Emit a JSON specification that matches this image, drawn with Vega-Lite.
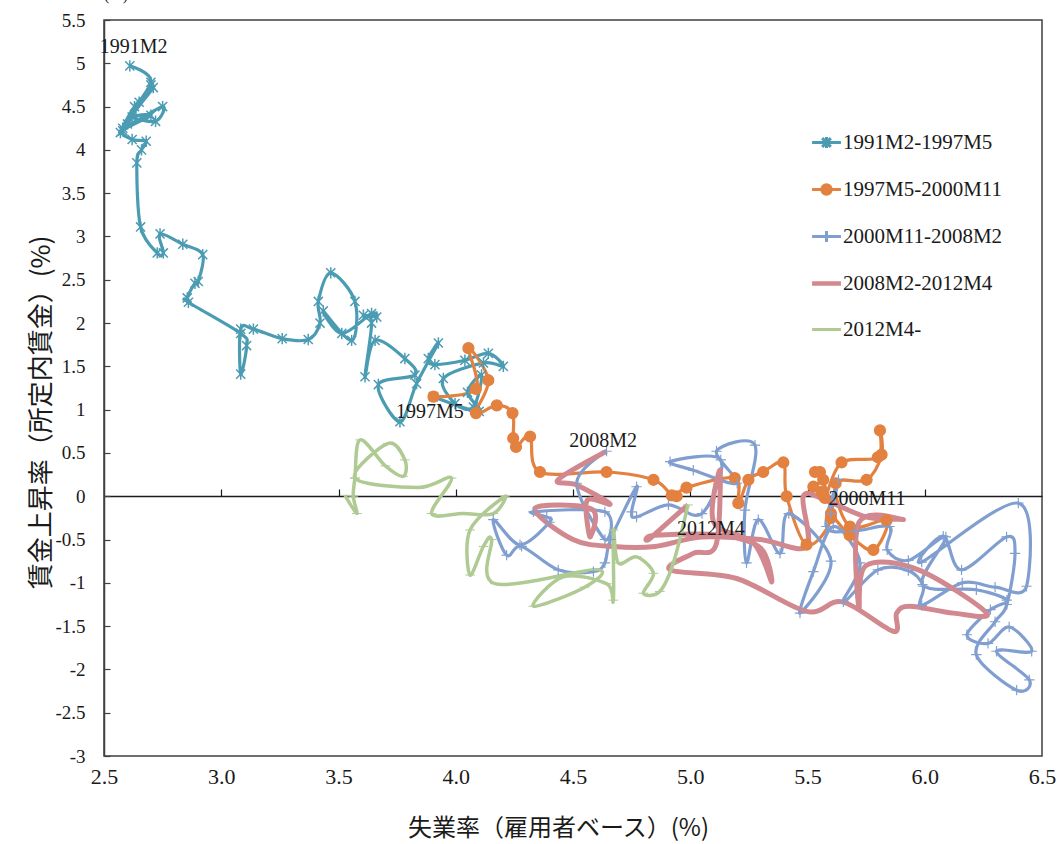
{
  "$schema": "https://vega.github.io/schema/vega-lite/v6.json",
  "width": 938,
  "height": 736,
  "autosize": {"type": "none"},
  "padding": {"left": 104, "top": 20, "right": 15, "bottom": 88},
  "background": "white",
  "config": {"view": {"stroke": "#404040", "strokeWidth": 1.5}},
  "title": {"text": "(%)", "anchor": "start", "frame": "group", "font": "Liberation Serif", "fontSize": 16, "fontWeight": "normal", "color": "#1a1a1a", "offset": 8},
  "data": {"values": [
    {"s":"1991M2-1997M5","t":1,"u":2.61,"w":4.97},{"s":"1991M2-1997M5","t":2,"u":2.70,"w":4.78},{"s":"1991M2-1997M5","t":3,"u":2.58,"w":4.25},{"s":"1991M2-1997M5","t":4,"u":2.65,"w":4.55},{"s":"1991M2-1997M5","t":5,"u":2.70,"w":4.75},{"s":"1991M2-1997M5","t":6,"u":2.57,"w":4.20},{"s":"1991M2-1997M5","t":7,"u":2.63,"w":4.50},{"s":"1991M2-1997M5","t":8,"u":2.71,"w":4.72},{"s":"1991M2-1997M5","t":9,"u":2.60,"w":4.30},{"s":"1991M2-1997M5","t":10,"u":2.75,"w":4.50},
    {"s":"1991M2-1997M5","t":11,"u":2.72,"w":4.33},{"s":"1991M2-1997M5","t":12,"u":2.62,"w":4.38},{"s":"1991M2-1997M5","t":13,"u":2.70,"w":4.40},{"s":"1991M2-1997M5","t":14,"u":2.58,"w":4.22},{"s":"1991M2-1997M5","t":15,"u":2.62,"w":4.12},{"s":"1991M2-1997M5","t":16,"u":2.68,"w":4.10},{"s":"1991M2-1997M5","t":17,"u":2.66,"w":4.00},{"s":"1991M2-1997M5","t":18,"u":2.64,"w":3.85},{"s":"1991M2-1997M5","t":19,"u":2.656,"w":3.11},{"s":"1991M2-1997M5","t":20,"u":2.727,"w":2.81},
    {"s":"1991M2-1997M5","t":21,"u":2.753,"w":2.81},{"s":"1991M2-1997M5","t":22,"u":2.739,"w":3.03},{"s":"1991M2-1997M5","t":23,"u":2.836,"w":2.91},{"s":"1991M2-1997M5","t":24,"u":2.921,"w":2.79},{"s":"1991M2-1997M5","t":25,"u":2.902,"w":2.48},{"s":"1991M2-1997M5","t":26,"u":2.888,"w":2.46},{"s":"1991M2-1997M5","t":27,"u":2.855,"w":2.29},{"s":"1991M2-1997M5","t":28,"u":2.86,"w":2.24},{"s":"1991M2-1997M5","t":29,"u":3.083,"w":1.88},{"s":"1991M2-1997M5","t":30,"u":3.108,"w":1.74},
    {"s":"1991M2-1997M5","t":31,"u":3.083,"w":1.41},{"s":"1991M2-1997M5","t":32,"u":3.083,"w":1.93},{"s":"1991M2-1997M5","t":33,"u":3.137,"w":1.93},{"s":"1991M2-1997M5","t":34,"u":3.26,"w":1.82},{"s":"1991M2-1997M5","t":35,"u":3.371,"w":1.81},{"s":"1991M2-1997M5","t":36,"u":3.421,"w":2.0},{"s":"1991M2-1997M5","t":37,"u":3.414,"w":2.25},{"s":"1991M2-1997M5","t":38,"u":3.467,"w":2.58},{"s":"1991M2-1997M5","t":39,"u":3.57,"w":2.25},{"s":"1991M2-1997M5","t":40,"u":3.556,"w":1.80},
    {"s":"1991M2-1997M5","t":41,"u":3.435,"w":2.14},{"s":"1991M2-1997M5","t":42,"u":3.514,"w":1.88},{"s":"1991M2-1997M5","t":43,"u":3.641,"w":2.11},{"s":"1991M2-1997M5","t":44,"u":3.663,"w":2.07},{"s":"1991M2-1997M5","t":45,"u":3.606,"w":2.09},{"s":"1991M2-1997M5","t":46,"u":3.641,"w":2.0},{"s":"1991M2-1997M5","t":47,"u":3.613,"w":1.38},{"s":"1991M2-1997M5","t":48,"u":3.656,"w":1.80},{"s":"1991M2-1997M5","t":49,"u":3.783,"w":1.59},{"s":"1991M2-1997M5","t":50,"u":3.826,"w":1.40},
    {"s":"1991M2-1997M5","t":51,"u":3.67,"w":1.29},{"s":"1991M2-1997M5","t":52,"u":3.762,"w":0.86},{"s":"1991M2-1997M5","t":53,"u":3.833,"w":1.30},{"s":"1991M2-1997M5","t":54,"u":3.926,"w":1.77},{"s":"1991M2-1997M5","t":55,"u":3.883,"w":1.59},{"s":"1991M2-1997M5","t":56,"u":3.911,"w":1.52},{"s":"1991M2-1997M5","t":57,"u":4.039,"w":1.57},{"s":"1991M2-1997M5","t":58,"u":4.139,"w":1.65},{"s":"1991M2-1997M5","t":59,"u":4.203,"w":1.50},{"s":"1991M2-1997M5","t":60,"u":4.118,"w":1.54},
    {"s":"1991M2-1997M5","t":61,"u":3.947,"w":1.36},{"s":"1991M2-1997M5","t":62,"u":3.997,"w":1.07},{"s":"1991M2-1997M5","t":63,"u":4.075,"w":1.03},{"s":"1991M2-1997M5","t":64,"u":4.11,"w":1.40},{"s":"1991M2-1997M5","t":65,"u":4.05,"w":1.20},{"s":"1991M2-1997M5","t":66,"u":4.10,"w":0.98},{"s":"1991M2-1997M5","t":67,"u":3.905,"w":1.15},

    {"s":"1997M5-2000M11","t":1,"u":3.905,"w":1.15},{"s":"1997M5-2000M11","t":2,"u":4.086,"w":1.24},{"s":"1997M5-2000M11","t":3,"u":4.054,"w":1.71},{"s":"1997M5-2000M11","t":4,"u":4.139,"w":1.34},{"s":"1997M5-2000M11","t":5,"u":4.086,"w":0.96},{"s":"1997M5-2000M11","t":6,"u":4.175,"w":1.05},{"s":"1997M5-2000M11","t":7,"u":4.242,"w":0.96},{"s":"1997M5-2000M11","t":8,"u":4.245,"w":0.67},{"s":"1997M5-2000M11","t":9,"u":4.257,"w":0.57},{"s":"1997M5-2000M11","t":10,"u":4.317,"w":0.69},
    {"s":"1997M5-2000M11","t":11,"u":4.359,"w":0.28},{"s":"1997M5-2000M11","t":12,"u":4.643,"w":0.28},{"s":"1997M5-2000M11","t":13,"u":4.843,"w":0.19},{"s":"1997M5-2000M11","t":14,"u":4.921,"w":0.01},{"s":"1997M5-2000M11","t":15,"u":4.942,"w":0.0},{"s":"1997M5-2000M11","t":16,"u":4.984,"w":0.10},{"s":"1997M5-2000M11","t":17,"u":5.19,"w":0.21},{"s":"1997M5-2000M11","t":18,"u":5.205,"w":-0.08},{"s":"1997M5-2000M11","t":19,"u":5.248,"w":0.19},{"s":"1997M5-2000M11","t":20,"u":5.311,"w":0.28},
    {"s":"1997M5-2000M11","t":21,"u":5.397,"w":0.39},{"s":"1997M5-2000M11","t":22,"u":5.411,"w":0.0},{"s":"1997M5-2000M11","t":23,"u":5.496,"w":-0.56},{"s":"1997M5-2000M11","t":24,"u":5.60,"w":-0.25},{"s":"1997M5-2000M11","t":25,"u":5.553,"w":0.28},{"s":"1997M5-2000M11","t":26,"u":5.532,"w":0.28},{"s":"1997M5-2000M11","t":27,"u":5.567,"w":0.19},{"s":"1997M5-2000M11","t":28,"u":5.525,"w":0.11},{"s":"1997M5-2000M11","t":29,"u":5.56,"w":0.05},{"s":"1997M5-2000M11","t":30,"u":5.574,"w":-0.02},
    {"s":"1997M5-2000M11","t":31,"u":5.645,"w":0.39},{"s":"1997M5-2000M11","t":32,"u":5.80,"w":0.45},{"s":"1997M5-2000M11","t":33,"u":5.809,"w":0.76},{"s":"1997M5-2000M11","t":34,"u":5.816,"w":0.48},{"s":"1997M5-2000M11","t":35,"u":5.752,"w":0.19},{"s":"1997M5-2000M11","t":36,"u":5.62,"w":0.15},{"s":"1997M5-2000M11","t":37,"u":5.681,"w":-0.35},{"s":"1997M5-2000M11","t":38,"u":5.837,"w":-0.28},{"s":"1997M5-2000M11","t":39,"u":5.781,"w":-0.62},{"s":"1997M5-2000M11","t":40,"u":5.68,"w":-0.45},
    {"s":"1997M5-2000M11","t":41,"u":5.60,"w":-0.20},

    {"s":"2000M11-2008M2","t":1,"u":5.60,"w":-0.20},{"s":"2000M11-2008M2","t":2,"u":5.632,"w":0.19},{"s":"2000M11-2008M2","t":3,"u":5.58,"w":-0.35},{"s":"2000M11-2008M2","t":4,"u":5.70,"w":-0.40},{"s":"2000M11-2008M2","t":5,"u":5.85,"w":-0.35},{"s":"2000M11-2008M2","t":6,"u":5.84,"w":-0.62},{"s":"2000M11-2008M2","t":7,"u":5.93,"w":-0.74},{"s":"2000M11-2008M2","t":8,"u":6.09,"w":-0.47},{"s":"2000M11-2008M2","t":9,"u":5.99,"w":-1.02},{"s":"2000M11-2008M2","t":10,"u":6.22,"w":-1.08},
    {"s":"2000M11-2008M2","t":11,"u":6.35,"w":-1.20},{"s":"2000M11-2008M2","t":12,"u":6.28,"w":-1.31},{"s":"2000M11-2008M2","t":13,"u":6.18,"w":-1.60},{"s":"2000M11-2008M2","t":14,"u":6.27,"w":-1.70},{"s":"2000M11-2008M2","t":15,"u":6.36,"w":-1.51},{"s":"2000M11-2008M2","t":16,"u":6.456,"w":-1.79},{"s":"2000M11-2008M2","t":17,"u":6.306,"w":-1.79},{"s":"2000M11-2008M2","t":18,"u":6.446,"w":-2.12},{"s":"2000M11-2008M2","t":19,"u":6.392,"w":-2.24},{"s":"2000M11-2008M2","t":20,"u":6.22,"w":-1.83},
    {"s":"2000M11-2008M2","t":21,"u":6.30,"w":-1.45},{"s":"2000M11-2008M2","t":22,"u":6.35,"w":-1.25},{"s":"2000M11-2008M2","t":23,"u":6.385,"w":-0.66},{"s":"2000M11-2008M2","t":24,"u":6.349,"w":-0.47},{"s":"2000M11-2008M2","t":25,"u":6.157,"w":-0.85},{"s":"2000M11-2008M2","t":26,"u":6.079,"w":-0.46},{"s":"2000M11-2008M2","t":27,"u":5.987,"w":-0.76},{"s":"2000M11-2008M2","t":28,"u":6.399,"w":-0.08},{"s":"2000M11-2008M2","t":29,"u":6.434,"w":-1.04},{"s":"2000M11-2008M2","t":30,"u":6.30,"w":-1.05},
    {"s":"2000M11-2008M2","t":31,"u":6.16,"w":-1.0},{"s":"2000M11-2008M2","t":32,"u":5.987,"w":-1.26},{"s":"2000M11-2008M2","t":33,"u":5.994,"w":-1.04},{"s":"2000M11-2008M2","t":34,"u":5.93,"w":-0.86},{"s":"2000M11-2008M2","t":35,"u":5.80,"w":-0.85},{"s":"2000M11-2008M2","t":36,"u":5.653,"w":-1.22},{"s":"2000M11-2008M2","t":37,"u":5.724,"w":-0.77},{"s":"2000M11-2008M2","t":38,"u":5.61,"w":-0.35},{"s":"2000M11-2008M2","t":39,"u":5.525,"w":-0.87},{"s":"2000M11-2008M2","t":40,"u":5.468,"w":-1.35},
    {"s":"2000M11-2008M2","t":41,"u":5.60,"w":-0.75},{"s":"2000M11-2008M2","t":42,"u":5.42,"w":-0.20},{"s":"2000M11-2008M2","t":43,"u":5.383,"w":-0.66},{"s":"2000M11-2008M2","t":44,"u":5.29,"w":-0.27},{"s":"2000M11-2008M2","t":45,"u":5.24,"w":-0.77},{"s":"2000M11-2008M2","t":46,"u":5.233,"w":-0.16},{"s":"2000M11-2008M2","t":47,"u":5.276,"w":0.59},{"s":"2000M11-2008M2","t":48,"u":5.112,"w":0.52},{"s":"2000M11-2008M2","t":49,"u":5.20,"w":0.15},{"s":"2000M11-2008M2","t":50,"u":5.013,"w":0.30},
    {"s":"2000M11-2008M2","t":51,"u":4.914,"w":0.40},{"s":"2000M11-2008M2","t":52,"u":5.13,"w":0.42},{"s":"2000M11-2008M2","t":53,"u":5.05,"w":-0.20},{"s":"2000M11-2008M2","t":54,"u":4.907,"w":-0.10},{"s":"2000M11-2008M2","t":55,"u":4.771,"w":-0.24},{"s":"2000M11-2008M2","t":56,"u":4.75,"w":-0.18},{"s":"2000M11-2008M2","t":57,"u":4.771,"w":0.11},{"s":"2000M11-2008M2","t":58,"u":4.66,"w":-0.50},{"s":"2000M11-2008M2","t":59,"u":4.636,"w":-0.77},{"s":"2000M11-2008M2","t":60,"u":4.587,"w":-0.87},
    {"s":"2000M11-2008M2","t":61,"u":4.437,"w":-0.85},{"s":"2000M11-2008M2","t":62,"u":4.281,"w":-0.58},{"s":"2000M11-2008M2","t":63,"u":4.217,"w":-0.68},{"s":"2000M11-2008M2","t":64,"u":4.16,"w":-0.27},{"s":"2000M11-2008M2","t":65,"u":4.274,"w":-0.56},{"s":"2000M11-2008M2","t":66,"u":4.40,"w":-0.30},{"s":"2000M11-2008M2","t":67,"u":4.388,"w":-0.24},{"s":"2000M11-2008M2","t":68,"u":4.331,"w":-0.18},{"s":"2000M11-2008M2","t":69,"u":4.636,"w":-0.18},{"s":"2000M11-2008M2","t":70,"u":4.636,"w":-0.50},
    {"s":"2000M11-2008M2","t":71,"u":4.516,"w":0.15},{"s":"2000M11-2008M2","t":72,"u":4.643,"w":0.52},

    {"s":"2008M2-2012M4","t":1,"u":4.643,"w":0.52},{"s":"2008M2-2012M4","t":2,"u":4.436,"w":0.19},{"s":"2008M2-2012M4","t":3,"u":4.516,"w":0.13},{"s":"2008M2-2012M4","t":4,"u":4.658,"w":-0.09},{"s":"2008M2-2012M4","t":5,"u":4.56,"w":-0.05},{"s":"2008M2-2012M4","t":6,"u":4.572,"w":-0.47},{"s":"2008M2-2012M4","t":7,"u":4.58,"w":-0.15},{"s":"2008M2-2012M4","t":8,"u":4.338,"w":-0.14},{"s":"2008M2-2012M4","t":9,"u":4.50,"w":-0.50},{"s":"2008M2-2012M4","t":10,"u":4.672,"w":-0.58},
    {"s":"2008M2-2012M4","t":11,"u":4.85,"w":-0.58},{"s":"2008M2-2012M4","t":12,"u":5.05,"w":-0.47},{"s":"2008M2-2012M4","t":13,"u":5.30,"w":-0.50},{"s":"2008M2-2012M4","t":14,"u":5.496,"w":-0.58},{"s":"2008M2-2012M4","t":15,"u":5.482,"w":0.0},{"s":"2008M2-2012M4","t":16,"u":5.58,"w":-0.05},{"s":"2008M2-2012M4","t":17,"u":5.752,"w":-0.24},{"s":"2008M2-2012M4","t":18,"u":5.909,"w":-0.27},{"s":"2008M2-2012M4","t":19,"u":5.72,"w":-0.30},{"s":"2008M2-2012M4","t":20,"u":5.72,"w":-1.30},
    {"s":"2008M2-2012M4","t":21,"u":5.75,"w":-0.80},{"s":"2008M2-2012M4","t":22,"u":5.973,"w":-0.85},{"s":"2008M2-2012M4","t":23,"u":6.264,"w":-1.35},{"s":"2008M2-2012M4","t":24,"u":6.122,"w":-1.35},{"s":"2008M2-2012M4","t":25,"u":5.937,"w":-1.27},{"s":"2008M2-2012M4","t":26,"u":5.88,"w":-1.35},{"s":"2008M2-2012M4","t":27,"u":5.866,"w":-1.56},{"s":"2008M2-2012M4","t":28,"u":5.65,"w":-1.22},{"s":"2008M2-2012M4","t":29,"u":5.496,"w":-1.33},{"s":"2008M2-2012M4","t":30,"u":5.198,"w":-0.95},
    {"s":"2008M2-2012M4","t":31,"u":4.914,"w":-0.85},{"s":"2008M2-2012M4","t":32,"u":5.013,"w":-0.66},{"s":"2008M2-2012M4","t":33,"u":5.11,"w":-0.56},{"s":"2008M2-2012M4","t":34,"u":5.127,"w":0.30},{"s":"2008M2-2012M4","t":35,"u":5.10,"w":-0.30},{"s":"2008M2-2012M4","t":36,"u":5.27,"w":-0.54},{"s":"2008M2-2012M4","t":37,"u":5.347,"w":-0.99},{"s":"2008M2-2012M4","t":38,"u":5.30,"w":-0.60},{"s":"2008M2-2012M4","t":39,"u":5.13,"w":-0.45},{"s":"2008M2-2012M4","t":40,"u":4.85,"w":-0.45},
    {"s":"2008M2-2012M4","t":41,"u":4.828,"w":-0.49},{"s":"2008M2-2012M4","t":42,"u":4.99,"w":-0.10},

    {"s":"2012M4-","t":1,"u":4.99,"w":-0.10},{"s":"2012M4-","t":2,"u":4.928,"w":-0.77},{"s":"2012M4-","t":3,"u":4.87,"w":-1.10},{"s":"2012M4-","t":4,"u":4.80,"w":-1.12},{"s":"2012M4-","t":5,"u":4.843,"w":-0.89},{"s":"2012M4-","t":6,"u":4.771,"w":-0.70},{"s":"2012M4-","t":7,"u":4.693,"w":-0.77},{"s":"2012M4-","t":8,"u":4.672,"w":-0.39},{"s":"2012M4-","t":9,"u":4.672,"w":-1.20},{"s":"2012M4-","t":10,"u":4.643,"w":-1.01},
    {"s":"2012M4-","t":11,"u":4.459,"w":-0.93},{"s":"2012M4-","t":12,"u":4.331,"w":-1.27},{"s":"2012M4-","t":13,"u":4.55,"w":-1.05},{"s":"2012M4-","t":14,"u":4.60,"w":-0.85},{"s":"2012M4-","t":15,"u":4.167,"w":-1.01},{"s":"2012M4-","t":16,"u":4.153,"w":-0.50},{"s":"2012M4-","t":17,"u":4.118,"w":-0.58},{"s":"2012M4-","t":18,"u":4.061,"w":-0.91},{"s":"2012M4-","t":19,"u":4.061,"w":-0.39},{"s":"2012M4-","t":20,"u":4.21,"w":0.0},
    {"s":"2012M4-","t":21,"u":4.16,"w":-0.20},{"s":"2012M4-","t":22,"u":4.032,"w":-0.20},{"s":"2012M4-","t":23,"u":3.897,"w":-0.20},{"s":"2012M4-","t":24,"u":3.982,"w":0.21},{"s":"2012M4-","t":25,"u":3.84,"w":0.10},{"s":"2012M4-","t":26,"u":3.57,"w":0.21},{"s":"2012M4-","t":27,"u":3.712,"w":0.61},{"s":"2012M4-","t":28,"u":3.783,"w":0.42},{"s":"2012M4-","t":29,"u":3.776,"w":0.23},{"s":"2012M4-","t":30,"u":3.70,"w":0.35},
    {"s":"2012M4-","t":31,"u":3.592,"w":0.65},{"s":"2012M4-","t":32,"u":3.57,"w":0.21},{"s":"2012M4-","t":33,"u":3.563,"w":0.0},{"s":"2012M4-","t":34,"u":3.578,"w":-0.20},{"s":"2012M4-","t":35,"u":3.528,"w":0.01},

    {"label":"1991M2","u":2.626,"w":5.119},
    {"label":"1997M5","u":3.890,"w":0.904},
    {"label":"2008M2","u":4.628,"w":0.569},
    {"label":"2012M4","u":5.088,"w":-0.447},
    {"label":"2000M11","u":5.754,"w":-0.100}
  ]},
  "encoding": {
    "y": {"field": "w", "type": "quantitative",
      "scale": {"domain": [-3, 5.5], "nice": false, "zero": false},
      "axis": {"title": "賃金上昇率（所定内賃金）(%)", "titleFont": "Noto Sans CJK JP", "titleFontSize": 26, "titleFontWeight": "normal", "titleColor": "#1a1a1a", "titleX": -63, "titleY": 392, "titleAngle": -90, "titleBaseline": "middle", "titleAlign": "center",
        "values": [-3, -2.5, -2, -1.5, -1, -0.5, 0, 0.5, 1, 1.5, 2, 2.5, 3, 3.5, 4, 4.5, 5, 5.5],
        "labelExpr": "'' + datum.value", "labelFont": "Liberation Serif", "labelFontSize": 19, "labelColor": "#1a1a1a",
        "tickSize": -6, "tickColor": "#404040", "tickWidth": 1.2, "labelPadding": 25, "labelFlush": false, "labelOverlap": false,
        "domainColor": "#404040", "domainWidth": 1.5, "grid": false}}
  },
  "layer": [
    {
      "transform": [{"filter": "isValid(datum.s) && datum.s !== '2008M2-2012M4' && datum.s !== '2012M4-'"}],
      "mark": {"type": "line", "interpolate": "cardinal", "strokeWidth": 3.2},
      "encoding": {
        "x": {"field": "u", "type": "quantitative", "scale": {"domain": [2.5, 6.5], "nice": false, "zero": false},
          "axis": {"orient": "top", "offset": -476, "labels": false, "title": null, "values": [3, 3.5, 4, 4.5, 5, 5.5, 6], "tickSize": 7, "tickColor": "#1a1a1a", "tickWidth": 1.2, "domainColor": "#1a1a1a", "domainWidth": 1.5, "grid": false}},
        "order": {"field": "t", "type": "quantitative"},
        "color": {"field": "s", "type": "nominal",
          "scale": {"domain": ["1991M2-1997M5", "1997M5-2000M11", "2000M11-2008M2", "2008M2-2012M4", "2012M4-"], "range": ["#4B9CB3", "#E38140", "#809FD0", "#D1888E", "#AFCA93"]},
          "legend": {"orient": "none", "legendX": 712, "legendY": 112, "title": null, "labelFont": "Liberation Serif", "labelFontSize": 21, "labelColor": "#1a1a1a", "symbolSize": 52, "rowPadding": 24, "labelOffset": 6,
            "encode": {"symbols": {"update": {
              "shape": {"signal": "datum.value === '1991M2-1997M5' ? 'M-4,0H4M-1.2,-1.2L1.2,1.2M-1.2,1.2L1.2,-1.2M0,-1.5V1.5' : datum.value === '1997M5-2000M11' ? 'M-4,0H4M-1.3,0A1.3,1.3 0 1,1 1.3,0A1.3,1.3 0 1,1 -1.3,0Z' : datum.value === '2000M11-2008M2' ? 'M-4,0H4M0,-1.5V1.5' : 'M-4,0H4'"},
              "strokeWidth": {"signal": "datum.value === '2008M2-2012M4' ? 4.5 : 3"},
              "fill": {"signal": "scale('color', datum.value)"},
              "opacity": {"value": 1}}}}}}
      }
    },
    {
      "transform": [{"filter": "datum.s === '2008M2-2012M4'"}],
      "mark": {"type": "line", "interpolate": "cardinal", "strokeWidth": 5, "color": "#D1888E"},
      "encoding": {
        "x": {"field": "u", "type": "quantitative", "scale": {"domain": [2.5, 6.5], "nice": false, "zero": false}, "axis": null},
        "order": {"field": "t", "type": "quantitative"}
      }
    },
    {
      "transform": [{"filter": "datum.s === '2012M4-'"}],
      "mark": {"type": "line", "interpolate": "cardinal", "strokeWidth": 3.5, "color": "#AFCA93"},
      "encoding": {
        "x": {"field": "u", "type": "quantitative", "scale": {"domain": [2.5, 6.5], "nice": false, "zero": false}, "axis": null},
        "order": {"field": "t", "type": "quantitative"}
      }
    },
    {
      "transform": [{"filter": "isValid(datum.s) && datum.s !== '2008M2-2012M4'"}],
      "mark": {"type": "point", "filled": false, "opacity": 1},
      "encoding": {
        "x": {"field": "u", "type": "quantitative", "scale": {"domain": [2.5, 6.5], "nice": false, "zero": false},
          "axis": {"orient": "bottom", "values": [2.5, 3, 3.5, 4, 4.5, 5, 5.5, 6, 6.5], "format": ".1f", "ticks": false, "domain": false, "grid": false,
            "labelFont": "Liberation Serif", "labelFontSize": 22, "labelColor": "#1a1a1a", "labelPadding": 10, "labelFlush": false, "labelOverlap": false,
            "title": "失業率（雇用者ベース）(%)", "titleFont": "Noto Sans CJK JP", "titleFontSize": 24, "titleFontWeight": "normal", "titleColor": "#1a1a1a", "titleX": 454, "titleY": 72, "titleBaseline": "middle", "titleAlign": "center"}},
        "color": {"field": "s", "type": "nominal", "legend": null,
          "scale": {"domain": ["1991M2-1997M5", "1997M5-2000M11", "2000M11-2008M2", "2008M2-2012M4", "2012M4-"], "range": ["#4B9CB3", "#E38140", "#809FD0", "#D1888E", "#AFCA93"]}},
        "fill": {"field": "s", "type": "nominal", "legend": null,
          "scale": {"domain": ["1991M2-1997M5", "1997M5-2000M11", "2000M11-2008M2", "2012M4-"], "range": ["#4B9CB3", "#E38140", "#809FD0", "#AFCA93"]}},
        "shape": {"field": "s", "type": "nominal", "legend": null,
          "scale": {"domain": ["1991M2-1997M5", "1997M5-2000M11", "2000M11-2008M2", "2012M4-"], "range": ["M-0.8,-0.8L0.8,0.8M-0.8,0.8L0.8,-0.8M0,-1V1", "circle", "M-1,0H1M0,-1V1", "M-1,0H1"]}},
        "size": {"field": "s", "type": "nominal", "legend": null,
          "scale": {"domain": ["1991M2-1997M5", "1997M5-2000M11", "2000M11-2008M2", "2012M4-"], "range": [130, 95, 110, 190]}},
        "strokeWidth": {"field": "s", "type": "nominal", "legend": null,
          "scale": {"domain": ["1991M2-1997M5", "1997M5-2000M11", "2000M11-2008M2", "2012M4-"], "range": [1.5, 1, 1.5, 3.5]}}
      }
    },
    {
      "transform": [{"filter": "isValid(datum.label)"}],
      "mark": {"type": "text", "font": "Liberation Serif", "fontSize": 20, "align": "center", "baseline": "alphabetic", "color": "#1a1a1a"},
      "encoding": {
        "x": {"field": "u", "type": "quantitative", "scale": {"domain": [2.5, 6.5], "nice": false, "zero": false}, "axis": null},
        "text": {"field": "label"}
      }
    }
  ],
  "resolve": {"axis": {"x": "independent"}, "scale": {"strokeWidth": "independent", "size": "independent", "fill": "independent", "shape": "independent"}}
}
